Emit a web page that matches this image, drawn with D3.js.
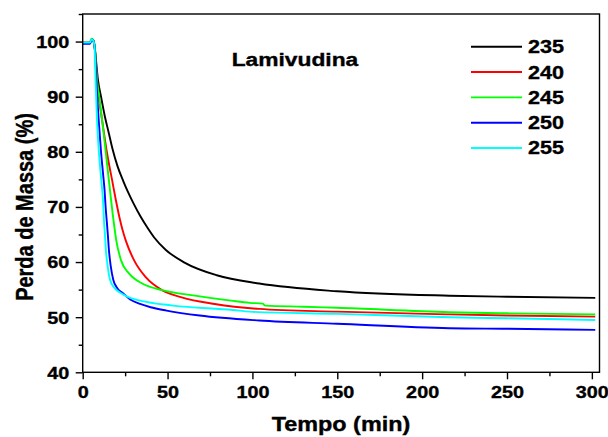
<!DOCTYPE html>
<html><head><meta charset="utf-8">
<script src="https://cdn.jsdelivr.net/npm/d3@7"></script>
<style>
body{margin:0;background:#fff}
svg text{font-family:"Liberation Sans",Arial,Helvetica,sans-serif;font-weight:bold;fill:#000;stroke:#000;stroke-width:0.35px}
</style>
</head><body>
<svg id="chart" width="608" height="437"></svg>
<script>
// ---- data ----
const seriesNames = ["235", "240", "245", "250", "255"];
const seriesColors = ["#000000", "#ff0000", "#00ff00", "#0000ff", "#00ffff"];

const t235 = [0, 4.3, 5.2, 6.2, 7.2, 9, 10.8, 13, 15.3, 17.5, 20.5, 23.9, 27, 30, 34, 38, 42, 49, 60, 79, 104, 150, 216, 250, 302];
const v235 = [99.8, 99.8, 100.4, 100.2, 98.5, 93, 90, 86.5, 83.5, 80.6, 77.4, 74.7, 72.5, 70.6, 68.3, 66.3, 64.5, 62.2, 59.9, 57.6, 56.1, 54.7, 53.9, 53.7, 53.5];

const t240 = [0, 4.3, 5.2, 6.2, 7.2, 8.5, 9.8, 11.5, 13.2, 15, 17.3, 19.5, 21.8, 23.4, 25.5, 30.3, 37, 46.7, 58.3, 77.8, 104, 150, 216, 250, 302];
const v240 = [99.8, 99.8, 100.4, 100.2, 98.6, 92.5, 89.2, 85.6, 82, 78.6, 74.9, 71.3, 67.9, 65.9, 63.8, 60.3, 57.3, 54.9, 53.6, 52.4, 51.5, 51.0, 50.5, 50.3, 50.1];

const t245 = [0, 4.3, 5.2, 6.2, 7.2, 8.4, 9.5, 10.8, 12.2, 13.5, 15.4, 18.1, 19.8, 22.6, 27.4, 35.1, 46.8, 66.2, 87.5, 98.4, 106, 107.5, 130, 150, 216, 250, 302];
const v245 = [99.8, 99.8, 100.5, 100.3, 98.8, 93, 90.5, 87.3, 83.8, 80.2, 74.9, 67.7, 63.9, 60.3, 57.9, 56.1, 54.9, 53.9, 53.0, 52.6, 52.45, 52.1, 51.9, 51.7, 50.9, 50.7, 50.5];

const t250 = [0, 4.3, 5.5, 6.4, 7.2, 8.2, 9.6, 10.8, 12, 12.9, 13.5, 14.1, 14.8, 15.5, 16.5, 18, 20.5, 23.9, 28, 33.8, 40, 49.4, 68.9, 104, 150, 216, 250, 302];
const v250 = [99.6, 99.6, 100.4, 100.1, 98.5, 92, 85, 80, 76, 73, 70, 67.7, 65, 62, 59.3, 56.8, 55.2, 54.3, 53.2, 52.4, 51.8, 51.2, 50.3, 49.4, 48.8, 48.0, 47.9, 47.7];

const t255 = [0, 4.3, 5.2, 6.2, 7.0, 7.6, 8.4, 9.3, 10.3, 11.2, 12, 12.5, 13.1, 13.7, 14.6, 16.1, 18.5, 22.9, 28, 33.8, 53.3, 88.5, 98.4, 150, 216, 250, 302];
const v255 = [99.8, 99.8, 100.4, 100.2, 99, 93, 86, 81, 77, 74, 71, 67.7, 65, 62, 59.5, 56.8, 55.4, 54.3, 53.5, 53.0, 52.1, 51.3, 51.0, 50.6, 50.0, 49.8, 49.5];

const seriesT = [t235, t240, t245, t250, t255];
const seriesV = [v235, v240, v245, v250, v255];

const xTicks = [0, 50, 100, 150, 200, 250, 300];
const xMinor = [25, 75, 125, 175, 225, 275];
const yTicks = [40, 50, 60, 70, 80, 90, 100];
const yMinor = [45, 55, 65, 75, 85, 95, 105];

const titleText = "Lamivudina";
const xTitle = "Tempo (min)";
const yTitle = "Perda de Massa (%)";

// ---- layout ----
const L = 82.7, R = 599.5, T = 14, B = 372.3;
const SX = 1.2; // horizontal stretch of the reference text
const svg = d3.select("#chart");

const x = d3.scaleLinear().domain([0, 304.5]).range([L, R]);
const y = d3.scaleLinear().domain([40, 105]).range([B, T]);

// curves
const line = d3.line().x(d => x(d[0])).y(d => y(d[1])).curve(d3.curveMonotoneX);
const curves = svg.append("g");
seriesT.forEach((ts, i) => {
  const pts = ts.map((t, j) => [t, seriesV[i][j]]);
  curves.append("path").datum(pts)
    .attr("d", line).attr("fill", "none")
    .attr("stroke", seriesColors[i]).attr("stroke-width", 1.9)
    .attr("stroke-linejoin", "round");
});

// axes
const xAxis = svg.append("g").attr("transform", `translate(0,${B})`)
  .call(d3.axisBottom(x).tickValues(xTicks).tickSize(7).tickSizeOuter(0).tickFormat(d3.format("d")));
svg.append("g").attr("transform", `translate(0,${B})`)
  .call(d3.axisBottom(x).tickValues(xMinor).tickSize(4).tickSizeOuter(0).tickFormat(""))
  .call(g => g.select(".domain").remove());
const yAxis = svg.append("g").attr("transform", `translate(${L},0)`)
  .call(d3.axisLeft(y).tickValues(yTicks).tickSize(7).tickSizeOuter(0).tickFormat(d3.format("d")));
svg.append("g").attr("transform", `translate(${L},0)`)
  .call(d3.axisLeft(y).tickValues(yMinor).tickSize(4).tickSizeOuter(0).tickFormat(""))
  .call(g => g.select(".domain").remove());

svg.selectAll(".tick line").attr("stroke", "#000").attr("stroke-width", 1.4);
svg.selectAll(".domain").remove();

xAxis.selectAll(".tick text")
  .attr("y", null).attr("dy", "0.71em")
  .attr("transform", `translate(0,14) scale(${SX},1)`)
  .attr("font-size", 16.5).attr("font-family", null);
yAxis.selectAll(".tick text")
  .attr("x", null).attr("dy", "0.36em")
  .attr("transform", `translate(-13.5,0) scale(${SX},1)`)
  .attr("font-size", 16.5).attr("font-family", null);

// frame
svg.append("rect").attr("x", L).attr("y", T).attr("width", R - L).attr("height", B - T)
  .attr("fill", "none").attr("stroke", "#000").attr("stroke-width", 1.4);

// title
svg.append("text").attr("transform", `translate(295,65.5) scale(${SX},1)`)
  .attr("text-anchor", "middle").attr("font-size", 19).text(titleText);

// axis titles
svg.append("text").attr("transform", `translate(341,431) scale(${SX},1)`)
  .attr("text-anchor", "middle").attr("font-size", 19.5).text(xTitle);
svg.append("text").attr("transform", `translate(32.5,207) scale(${SX},1) rotate(-90)`)
  .attr("text-anchor", "middle").attr("font-size", 20).text(yTitle);

// legend
const legY = d3.scalePoint().domain(seriesNames).range([46.7, 148]);
const leg = svg.append("g");
seriesNames.forEach((n, i) => {
  leg.append("line").attr("x1", 471).attr("x2", 522)
    .attr("y1", legY(n)).attr("y2", legY(n))
    .attr("stroke", seriesColors[i]).attr("stroke-width", 1.9);
  leg.append("text").attr("transform", `translate(528,${legY(n)}) scale(${SX},1)`)
    .attr("dy", "0.36em").attr("font-size", 18).text(n);
});
</script>
</body></html>
